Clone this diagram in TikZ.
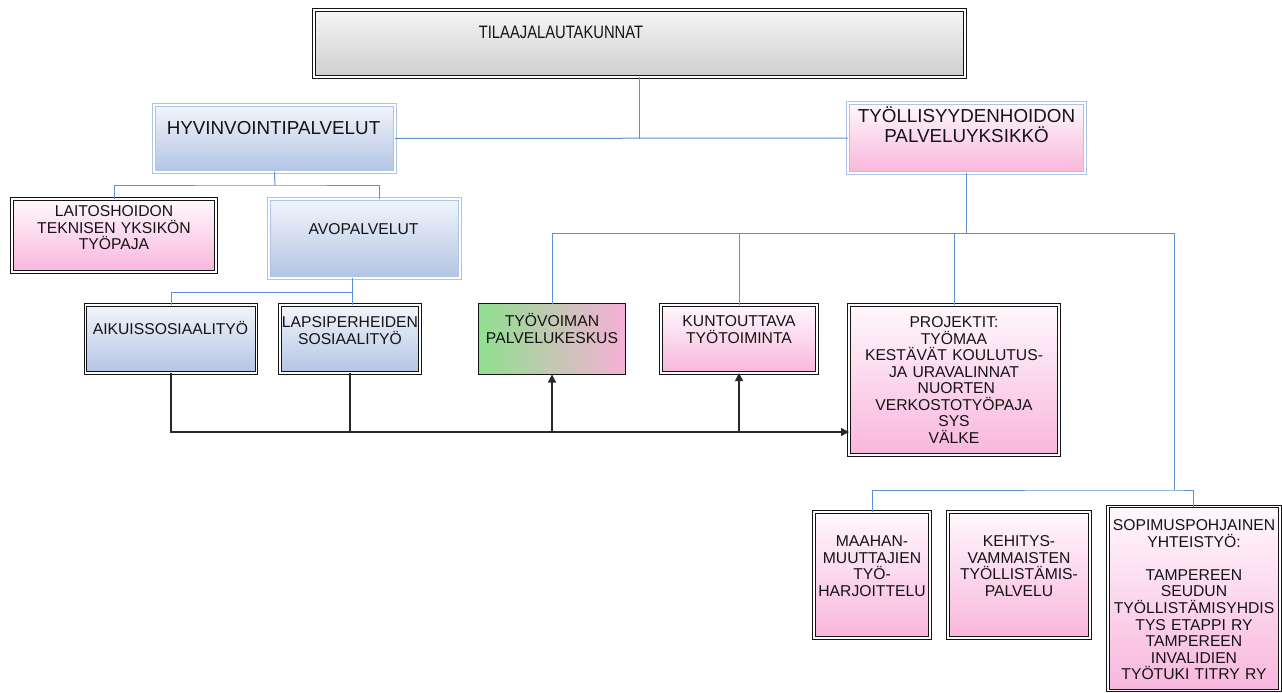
\documentclass[tikz,border=0pt]{standalone}
\usepackage{fontspec}
\setmainfont{Liberation Sans}
\usetikzlibrary{arrows.meta}
\definecolor{pinkB}{RGB}{248,182,220}
\definecolor{pinkT}{RGB}{255,248,252}
\definecolor{blueB}{RGB}{178,196,228}
\definecolor{blueT}{RGB}{242,245,251}
\definecolor{grayB}{RGB}{206,206,206}
\definecolor{grayT}{RGB}{246,246,246}
\definecolor{lineblue}{RGB}{96,143,210}
\definecolor{frameblue}{RGB}{172,196,234}
\definecolor{greenL}{RGB}{143,224,143}
\definecolor{midTone}{RGB}{204,204,186}
\definecolor{pinkR}{RGB}{246,176,214}
\definecolor{ink}{RGB}{20,20,20}
\definecolor{arrowink}{RGB}{40,40,40}
\tikzset{
  box/.style={rectangle, inner sep=0pt, outer sep=0pt},
  blackframe/.style={box, draw=ink, line width=0.9pt, double=white, double distance=1.3pt},
  blueframe/.style={box, draw=frameblue, line width=1pt, double=white, double distance=1.2pt},
  pinkfill/.style={top color=pinkT, bottom color=pinkB},
  bluefill/.style={top color=blueT, bottom color=blueB},
  grayfill/.style={top color=grayT, bottom color=grayB},
  lbl/.style={anchor=base, inner sep=0pt, align=center, text=ink, font=\fontsize{15.7}{16.6}\selectfont},
  biglbl/.style={anchor=base, inner sep=0pt, align=center, text=ink, font=\fontsize{18.8}{20}\selectfont},
  bl/.style={draw=lineblue, line width=1pt},
  ar/.style={draw=arrowink, line width=1.1pt, line join=miter},
  tip/.style={-{Triangle[length=8pt,width=8pt]}}
}
\begin{document}
\begin{tikzpicture}[x=1pt,y=-1pt]
\useasboundingbox (0,0) rectangle (1282,693);
\fill[white] (0,0) rectangle (1282,693);
% boxes
\node[blackframe, grayfill, minimum width=651pt, minimum height=67pt] (top) at (639.5,43.5) {};
\node[lbl, text width=300pt] (top-t) at (561,38.5) {\scalebox{0.82}[1]{\fontsize{18}{20}\selectfont TILAAJALAUTAKUNNAT}};

\node[blueframe, bluefill, minimum width=241pt, minimum height=67pt] (hyv) at (274.5,138.5) {};
\node[biglbl, text width=240pt] (hyv-t) at (273.5,134) {HYVINVOINTIPALVELUT};

\node[blueframe, pinkfill, minimum width=237pt, minimum height=70pt] (tyo) at (966.5,138) {};
\node[biglbl, text width=236pt] (tyo-t) at (966.5,122) {TYÖLLISYYDENHOIDON\\PALVELUYKSIKKÖ};

\node[blackframe, pinkfill, minimum width=204pt, minimum height=73pt] (laitos) at (114,235.5) {};
\node[lbl, text width=200pt, font=\fontsize{15.7}{16.5}\selectfont] (laitos-t) at (114,216.5) {LAITOSHOIDON\\TEKNISEN YKSIKÖN\\TYÖPAJA};

\node[blueframe, bluefill, minimum width=191pt, minimum height=79pt] (avo) at (364.5,238.5) {};
\node[lbl, text width=190pt] (avo-t) at (363.5,234.5) {AVOPALVELUT};

\node[blackframe, bluefill, minimum width=171pt, minimum height=68pt] (aikuis) at (171,339) {};
\node[lbl, text width=170pt] (aikuis-t) at (170.5,334.5) {AIKUISSOSIAALITYÖ};

\node[blackframe, bluefill, minimum width=140pt, minimum height=68pt] (lapsi) at (350,339) {};
\node[lbl, text width=150pt] (lapsi-t) at (350,327.5) {LAPSIPERHEIDEN\\SOSIAALITYÖ};

\node[box, draw=ink, line width=1pt, left color=greenL, middle color=midTone, right color=pinkR, minimum width=147pt, minimum height=71pt] (tyovoima) at (552,339) {};
\node[lbl, text width=150pt] (tyovoima-t) at (552,326.5) {TYÖVOIMAN\\PALVELUKESKUS};

\node[blackframe, pinkfill, minimum width=156pt, minimum height=68pt] (kuntou) at (739,339) {};
\node[lbl, text width=155pt] (kuntou-t) at (739,326.5) {KUNTOUTTAVA\\TYÖTOIMINTA};

\node[blackframe, pinkfill, minimum width=210pt, minimum height=150pt] (proj) at (954,380) {};
\node[lbl, text width=205pt, font=\fontsize{15.7}{16.5}\selectfont] (proj-t) at (954,327.5) {PROJEKTIT:\\TYÖMAA\\KESTÄVÄT KOULUTUS-\\JA URAVALINNAT\\\hspace*{0.3em}NUORTEN\\VERKOSTOTYÖPAJA\\SYS\\VÄLKE};

\node[blackframe, pinkfill, minimum width=116pt, minimum height=126pt] (maahan) at (872,575) {};
\node[lbl, text width=116pt] (maahan-t) at (872,546.5) {MAAHAN-\\MUUTTAJIEN\\TYÖ-\\HARJOITTELU};

\node[blackframe, pinkfill, minimum width=142pt, minimum height=126pt] (kehitys) at (1019,575) {};
\node[lbl, text width=142pt] (kehitys-t) at (1019,546.5) {KEHITYS-\\VAMMAISTEN\\TYÖLLISTÄMIS-\\PALVELU};

\node[blackframe, pinkfill, minimum width=172pt, minimum height=184pt] (sopimus) at (1194,598.5) {};
\node[lbl, text width=172pt] (sopimus-t) at (1194,530.5) {SOPIMUSPOHJAINEN\\YHTEISTYÖ:\\[16.6pt]TAMPEREEN\\SEUDUN\\TYÖLLISTÄMISYHDIS\\TYS ETAPPI RY\\TAMPEREEN\\INVALIDIEN\\TYÖTUKI TITRY RY};

% blue connectors
\draw[bl] (hyv.east) -- (tyo.west);
\draw[bl] (top.south) -- (top.south |- hyv.east);

\coordinate (j1) at (275,185);
\draw[bl] (hyv.south) -- (j1);
\draw[bl] (laitos.north) |- (j1) -| ([xshift=14.5pt]avo.north);

\coordinate (j2) at (352,292);
\draw[bl] ([xshift=-12.5pt]avo.south) -- (j2);
\draw[bl] (aikuis.north) |- (j2) -| ([xshift=2pt]lapsi.north);

\coordinate (j3) at (966.5,233);
\draw[bl] (tyo.south) -- (j3);
\draw[bl] (tyovoima.north) |- (1174,233) coordinate (j4) -- (1174,490) coordinate (j5);
\draw[bl] (kuntou.north) -- (kuntou.north |- j3);
\draw[bl] (proj.north) -- (proj.north |- j3);
\draw[bl] (maahan.north) |- (j5) -| ([xshift=-1pt]sopimus.north);

% black arrows
\coordinate (k1) at ([yshift=-59pt]aikuis.south);
\draw[ar, tip] (aikuis.south) -- (k1) -- (k1 -| proj.west);
\draw[ar] (lapsi.south) -- (lapsi.south |- k1);
\draw[ar, tip] (tyovoima.south |- k1) -- (tyovoima.south);
\draw[ar, tip] (kuntou.south |- k1) -- (kuntou.south);
\end{tikzpicture}
\end{document}
